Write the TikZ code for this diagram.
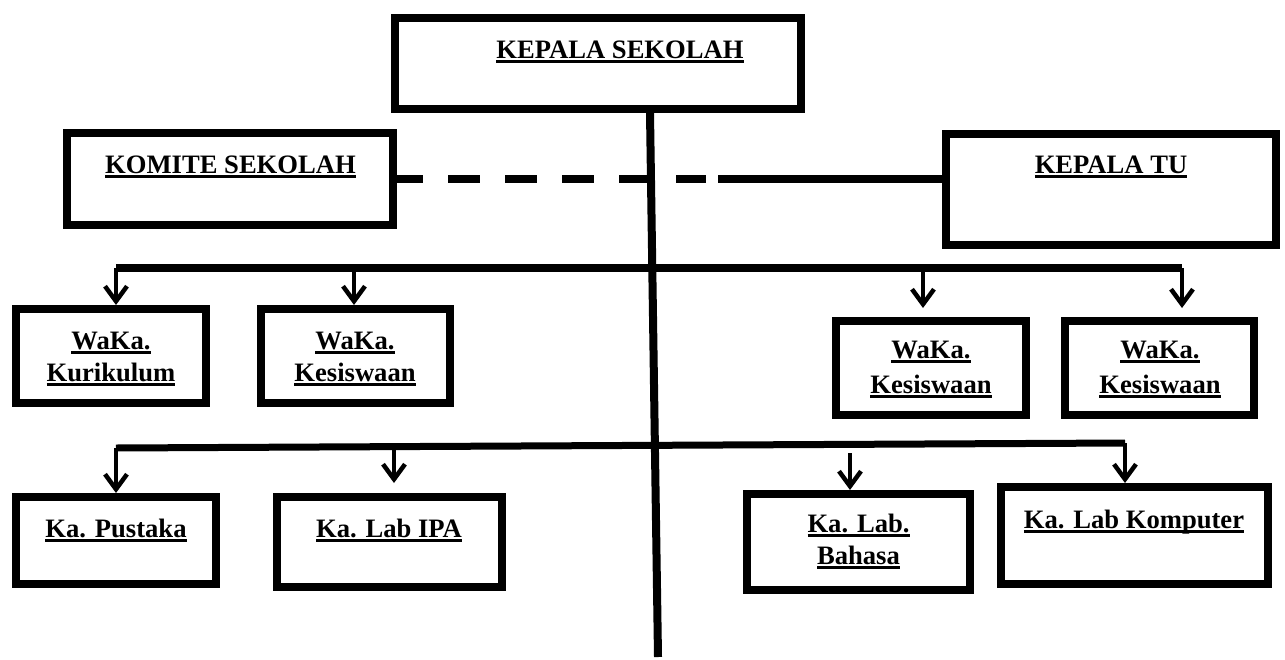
\documentclass[tikz,border=0pt]{standalone}
\usepackage{fontspec}
\setmainfont{Liberation Serif}
\usetikzlibrary{positioning,arrows.meta}
\newcommand{\garisbawah}[1]{\setbox0\hbox{#1}\rlap{\rule[-5pt]{\wd0}{2.6pt}}\box0}
\tikzset{
kotak/.style={draw, line width=8pt, inner sep=0pt},
teks/.style={font=\fontsize{26.6}{32}\selectfont\bfseries, align=center, inner sep=0pt, anchor=base},
garis/.style={line width=8pt},
panah/.style={line width=4.5pt, ->},
putus/.style={line width=8.5pt, dash pattern=on 32pt off 25pt, dash phase=6pt}
}

\begin{document}
\begin{tikzpicture}[x=1pt,y=-1pt,>={Straight Barb[length=15pt,width=22pt]}]
\useasboundingbox (0,0) rectangle (1285,659);
% kotak
\node[kotak, minimum width=406pt, minimum height=91pt] (kepsek) at (598,63.5) {};
\node[kotak, minimum width=326pt, minimum height=92pt] (komite) at (230,179) {};
\node[kotak, minimum width=330pt, minimum height=111pt] (kepalatu) at (1111,189.5) {};
\node[kotak, minimum width=190pt, minimum height=94pt] (waka1) at (111,356) {};
\node[kotak, minimum width=189pt, minimum height=94pt] (waka2) at (355.5,356) {};
\node[kotak, minimum width=190pt, minimum height=94pt] (waka3) at (931,368) {};
\node[kotak, minimum width=189pt, minimum height=94pt] (waka4) at (1159.5,368) {};
\node[kotak, minimum width=200pt, minimum height=87pt] (pustaka) at (116,540.5) {};
\node[kotak, minimum width=225pt, minimum height=90pt] (labipa) at (389.5,542) {};
\node[kotak, minimum width=223pt, minimum height=96pt] (bahasa) at (858.5,542) {};
\node[kotak, minimum width=267pt, minimum height=97pt] (komputer) at (1134.5,535.5) {};

% teks (base = baris terakhir)
\node[teks] (tkepsek) at (620,58) {\garisbawah{KEPALA SEKOLAH}};
\node[teks] (tkomite) at (230.5,173) {\garisbawah{KOMITE SEKOLAH}};
\node[teks] (tkepalatu) at (1111,173) {\garisbawah{KEPALA TU}};
\node[teks] (twaka1) at (111,381) {\garisbawah{WaKa.}\\\garisbawah{Kurikulum}};
\node[teks] (twaka2) at (355,381) {\garisbawah{WaKa.}\\\garisbawah{Kesiswaan}};
\node[teks] (twaka3) at (931,393) {\garisbawah{WaKa.}\\[3pt]\garisbawah{Kesiswaan}};
\node[teks] (twaka4) at (1160,393) {\garisbawah{WaKa.}\\[3pt]\garisbawah{Kesiswaan}};
\node[teks] (tpustaka) at (116,537) {\garisbawah{Ka. Pustaka}};
\node[teks] (tlabipa) at (389,537) {\garisbawah{Ka. Lab IPA}};
\node[teks] (tbahasa) at (858.5,564) {\garisbawah{Ka. Lab.}\\\garisbawah{Bahasa}};
\node[teks] (tkomputer) at (1134,528) {\garisbawah{Ka. Lab Komputer}};

% garis utama
\coordinate (puncak) at (650,113);
\coordinate (dasar) at (658,657);
\draw[garis] (puncak) -- (dasar);

\coordinate (ujung) at (706,179);
\coordinate (pangkal) at (718,179);
\draw[putus] (komite.east) -- (ujung);
\draw[garis, line width=8.5pt] (pangkal) -- (kepalatu.west |- pangkal);

% cabang atas
\coordinate (ka) at (116,268);
\coordinate (kb) at (1182,268);
\draw[garis] (ka) -- (kb);
\draw[panah] (ka) -- (ka |- waka1.north);
\draw[panah] (354,268) coordinate (k2) -- (k2 |- waka2.north);
\draw[panah, shorten >=9pt] (923,268) coordinate (k3) -- (k3 |- waka3.north);
\draw[panah, shorten >=9pt] (kb) -- (kb |- waka4.north);

% cabang bawah
\coordinate (kc) at (116,448);
\coordinate (kd) at (1125,443);
\draw[garis, line width=7pt] (kc) -- (kd);
\draw[panah] (kc) -- (kc |- pustaka.north);
\draw[panah, shorten >=10pt] (394,447) coordinate (k6) -- (k6 |- labipa.north);
\draw[panah] (850,453) coordinate (k7) -- (k7 |- bahasa.north);
\draw[panah] (kd) -- (kd |- komputer.north);
\end{tikzpicture}
\end{document}
